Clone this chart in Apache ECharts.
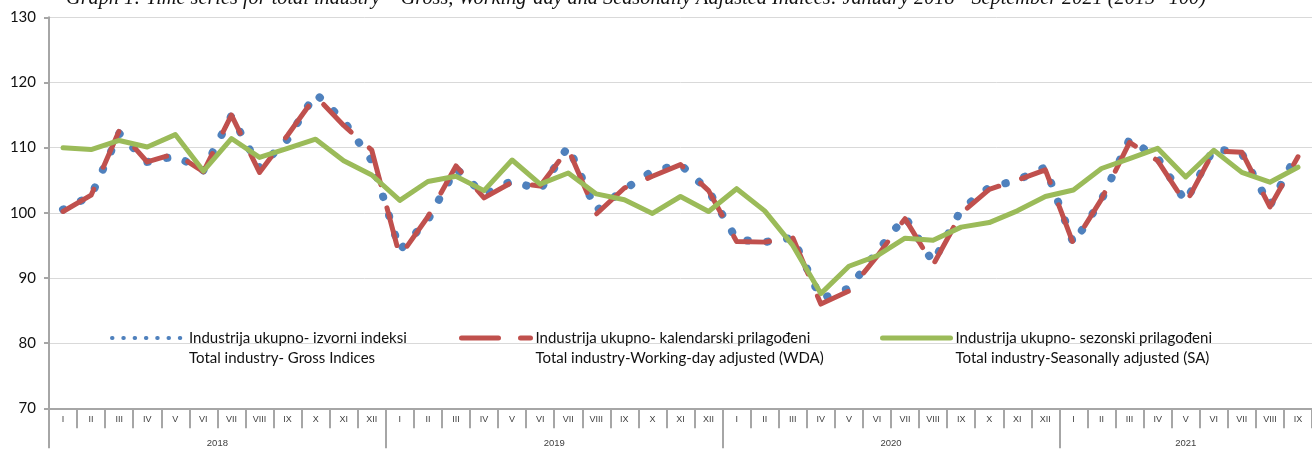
<!DOCTYPE html>
<html>
<head>
<meta charset="utf-8">
<script src="https://cdn.jsdelivr.net/npm/echarts@6/dist/echarts.min.js"></script>
<style>
html,body{margin:0;padding:0;background:#ffffff;}
#chart{width:1312px;height:454px;}
</style>
</head>
<body>
<div id="chart"></div>
<script>
// ---------- data ----------
const titleText = 'Graph 1: Time series for total industry \u2013 Gross, Working-day and Seasonally Adjusted Indices: January 2018 - September 2021 (2015=100)';
const romanMonths = ['I','II','III','IV','V','VI','VII','VIII','IX','X','XI','XII'];
const years = ['2018','2019','2020','2021'];
const monthsPerYear = [12, 12, 12, 9];

const grossValues = [100.5, 102.6, 112.2, 107.8, 108.7, 106.5, 114.9, 106.9, 111.3, 118.3, 114.1, 108.0,
  94.3, 98.9, 106.8, 102.8, 104.9, 103.5, 110.2, 100.3, 103.6, 106.4, 107.4, 103.4,
  95.9, 95.5, 96.2, 86.8, 88.4, 94.0, 99.4, 92.4, 100.5, 103.9, 105.0, 107.0,
  95.3, 102.0, 111.3, 108.4, 101.7, 109.9, 109.1, 101.1, 109.3];

const wdaValues = [100.2, 102.7, 112.6, 107.8, 109.1, 106.3, 115.0, 106.2, 111.9, 117.9, 113.4, 109.6,
  93.3, 99.4, 107.2, 102.3, 104.7, 104.1, 109.8, 99.8, 103.8, 105.6, 107.4, 103.4,
  95.6, 95.5, 96.2, 86.0, 88.0, 93.3, 99.1, 92.0, 99.9, 103.6, 105.0, 106.6,
  95.2, 102.1, 110.8, 108.0, 101.4, 109.5, 109.3, 100.9, 108.6];

const saValues = [110.0, 109.7, 111.1, 110.1, 112.0, 106.4, 111.4, 108.5, 109.9, 111.3, 108.0, 105.8,
  101.9, 104.8, 105.6, 103.4, 108.1, 104.4, 106.1, 102.9, 102.0, 99.9, 102.5, 100.2,
  103.7, 100.3, 95.0, 87.6, 91.8, 93.4, 96.1, 95.8, 97.8, 98.5, 100.3, 102.5,
  103.5, 106.8, 108.3, 109.9, 105.5, 109.6, 106.2, 104.7, 107.0];

const seriesKeys = ['gross', 'wda', 'sa'];
const legendLines = {
  gross: ['Industrija ukupno- izvorni indeksi', 'Total industry- Gross Indices'],
  wda: ['Industrija ukupno- kalendarski prilagođeni', 'Total industry-Working-day adjusted (WDA)'],
  sa: ['Industrija ukupno- sezonski prilagođeni', 'Total industry-Seasonally adjusted (SA)']
};
const yMin = 70, yMax = 130, yStep = 10;

// ---------- derived axis helpers ----------
const categories = [];
const yearBounds = [];
const yearCenters = [];
const yearAt = {};
let pos = 0;
years.forEach((y, k) => {
  yearBounds.push(pos);
  const c = pos + monthsPerYear[k] / 2;
  yearCenters.push(c);
  yearAt[c] = y;
  for (let m = 0; m < monthsPerYear[k]; m++) categories.push(y + '-' + romanMonths[m]);
  pos += monthsPerYear[k];
});
const totalMonths = pos;

const axisGray = '#A6A6A6';
const sansFont = 'Lato, "Liberation Sans", Arial, sans-serif';

const chart = echarts.init(document.getElementById('chart'), null, {renderer: 'canvas'});

function legendCfg(key, left, itemWidth, lineStyle) {
  return {
    data: [key],
    left: left,
    top: 308,
    padding: 0,
    itemWidth: itemWidth,
    itemHeight: 10,
    selectedMode: false,
    // blank first line keeps the first text line level with the icon
    formatter: n => '\n' + legendLines[n].join('\n'),
    itemStyle: {opacity: 0},
    lineStyle: lineStyle,
    textStyle: {
      fontFamily: sansFont,
      fontSize: 15,
      color: '#111111',
      lineHeight: 20
    }
  };
}

chart.setOption({
  animation: false,
  backgroundColor: '#ffffff',
  title: {
    text: titleText,
    left: 66,
    top: -11,
    padding: 0,
    textStyle: {
      fontFamily: '"Liberation Serif", "DejaVu Serif", serif',
      fontStyle: 'italic',
      fontWeight: 'normal',
      fontSize: 20.3,
      color: '#111111'
    }
  },
  legend: [
    legendCfg('gross', 110, 72, {color: '#4F81BD', width: 4, type: [0.5, 10.8], cap: 'round'}),
    legendCfg('wda', 459, 69, {color: '#C0504D', width: 5, type: [37, 22], cap: 'round'}),
    legendCfg('sa', 880, 68, {color: '#9BBB59', width: 5, type: 'solid', cap: 'round'})
  ],
  grid: {left: 49, top: 17.3, width: 1268, height: 391, containLabel: false},
  xAxis: [
    {
      type: 'category',
      data: categories,
      position: 'bottom',
      boundaryGap: true,
      axisLine: {onZero: false, lineStyle: {color: axisGray, width: 2}},
      axisTick: {show: true, interval: 0, alignWithLabel: false, length: 20, lineStyle: {color: axisGray, width: 2}},
      axisLabel: {
        interval: 0, margin: 7, fontSize: 9, color: '#404040',
        fontFamily: '"Liberation Sans", Arial, sans-serif',
        formatter: v => v.split('-')[1]
      },
      splitLine: {show: false}
    },
    {
      type: 'value',
      position: 'bottom',
      min: 0,
      max: totalMonths,
      axisLine: {show: false, onZero: false},
      axisTick: {show: true, customValues: yearBounds, length: 40, lineStyle: {color: axisGray, width: 2}},
      axisLabel: {
        show: true, customValues: yearCenters, margin: 30, fontSize: 9.5, color: '#404040',
        fontFamily: '"Liberation Sans", Arial, sans-serif',
        formatter: v => yearAt[v] || ''
      },
      splitLine: {show: false}
    }
  ],
  yAxis: {
    type: 'value',
    min: yMin,
    max: yMax,
    interval: yStep,
    axisLine: {show: true, lineStyle: {color: axisGray, width: 2}},
    axisTick: {show: true, length: 5, lineStyle: {color: axisGray, width: 2}},
    axisLabel: {margin: 13, fontSize: 15, color: '#111111', fontFamily: sansFont},
    splitLine: {show: true, lineStyle: {color: '#D9D9D9', width: 1}}
  },
  series: [
    {
      name: 'gross', type: 'line', xAxisIndex: 0, data: grossValues,
      symbol: 'none', z: 2, silent: true,
      lineStyle: {color: '#4F81BD', width: 8, type: [0.5, 19.5], cap: 'round', join: 'round'},
      itemStyle: {color: '#4F81BD'}
    },
    {
      name: 'wda', type: 'line', xAxisIndex: 0, data: wdaValues,
      symbol: 'none', z: 3, silent: true,
      lineStyle: {color: '#C0504D', width: 5, type: [39, 24], cap: 'round', join: 'round'},
      itemStyle: {color: '#C0504D'}
    },
    {
      name: 'sa', type: 'line', xAxisIndex: 0, data: saValues,
      symbol: 'none', z: 4, silent: true,
      lineStyle: {color: '#9BBB59', width: 5, type: 'solid', cap: 'round', join: 'round'},
      itemStyle: {color: '#9BBB59'}
    }
  ]
});
</script>
</body>
</html>
